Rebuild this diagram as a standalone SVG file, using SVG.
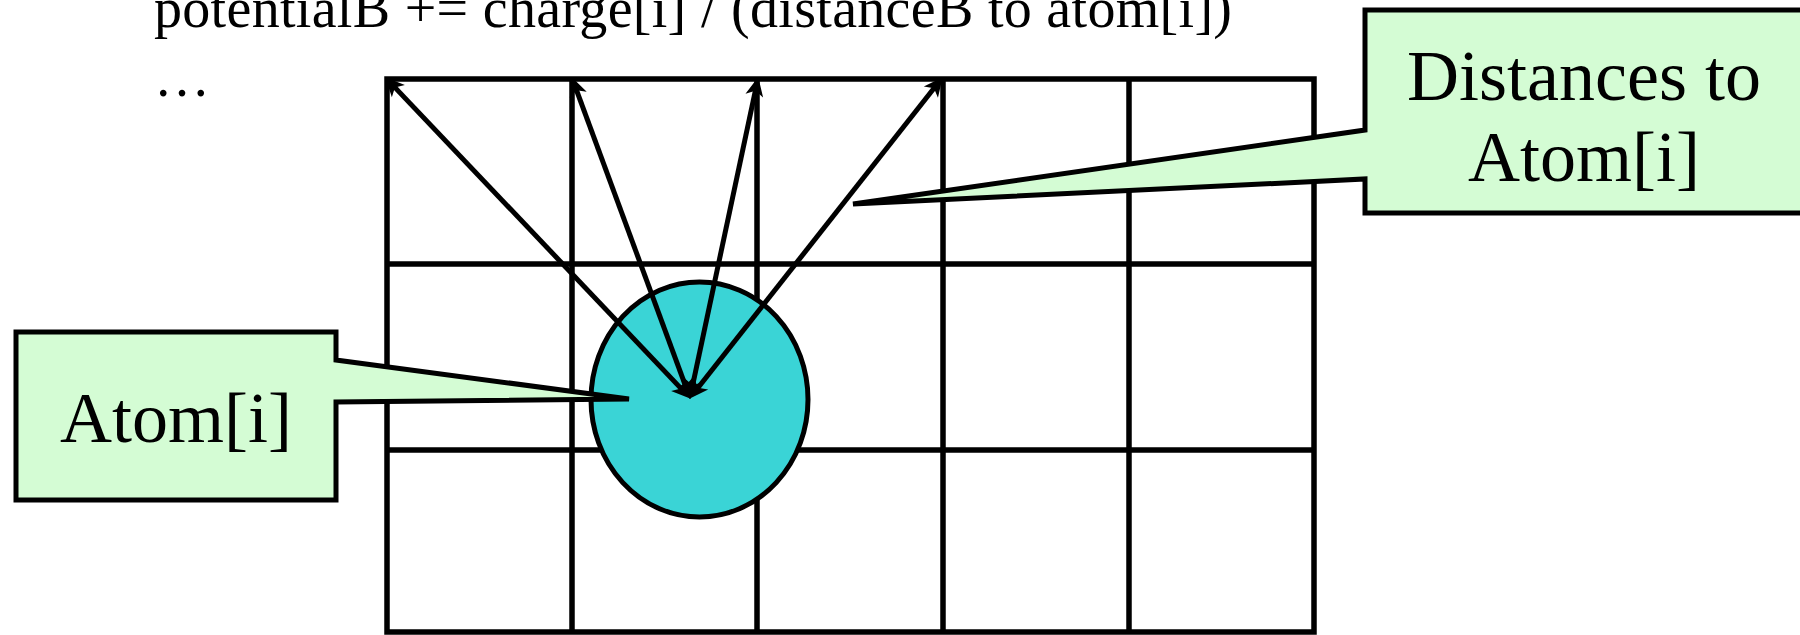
<svg xmlns="http://www.w3.org/2000/svg" width="1800" height="635" viewBox="0 0 1800 635">
<style>
.grid{fill:none;stroke:#000;stroke-width:5.5;stroke-linecap:square}
.callout{fill:#d4fcd4;stroke:#000;stroke-width:5}
.atom{fill:#3ad4d6;stroke:#000;stroke-width:5}
.arrow{fill:none;stroke:#000;stroke-width:5;marker-start:url(#head);marker-end:url(#head)}
.code{font-family:"Liberation Serif",serif;font-size:56px;fill:#000}
.label{font-family:"Liberation Serif",serif;font-size:72px;fill:#000;text-anchor:middle}
</style>
<defs>
<marker id="head" markerUnits="userSpaceOnUse" orient="auto-start-reverse" refX="0" refY="0" markerWidth="40" markerHeight="40" overflow="visible">
<path d="M7,0 L-12,-9 L-7,0 L-12,9 Z" fill="#000"/>
</marker>
</defs>
<rect width="1800" height="635" fill="#fff"/>
<g id="code-text">
<text class="code" x="154" y="27" textLength="1078" lengthAdjust="spacing">potentialB += charge[i] / (distanceB to atom[i])</text>
<text class="code" x="154" y="96">…</text>
</g>
<g id="grid">
<path class="grid" d="M387,79V632M572,79V632M757,79V632M943,79V632M1129,79V632M1314,79V632M387,79H1314M387,264H1314M387,450H1314M387,632H1314"/>
</g>
<g id="atom">
<ellipse class="atom" cx="699.5" cy="399.5" rx="108.5" ry="117.5"/>
</g>
<g id="callout-atom">
<path class="callout" d="M16,332H336V360L629,399L336,402V500H16Z"/>
<text class="label" x="176" y="442">Atom[i]</text>
</g>
<g id="callout-distances">
<path class="callout" d="M1365,10H1830V213H1365V179L853,204L1365,130Z"/>
<text class="label" x="1584" y="100">Distances to</text>
<text class="label" x="1584" y="181">Atom[i]</text>
</g>
<g id="connectors">
<path class="arrow" d="M685.9,393.6L390.1,82.4"/>
<path class="arrow" d="M687.9,392.4L574.1,83.6"/>
<path class="arrow" d="M691.2,392.1L756.8,83.9"/>
<path class="arrow" d="M693.7,393.3L938.3,82.7"/>
</g>
</svg>
